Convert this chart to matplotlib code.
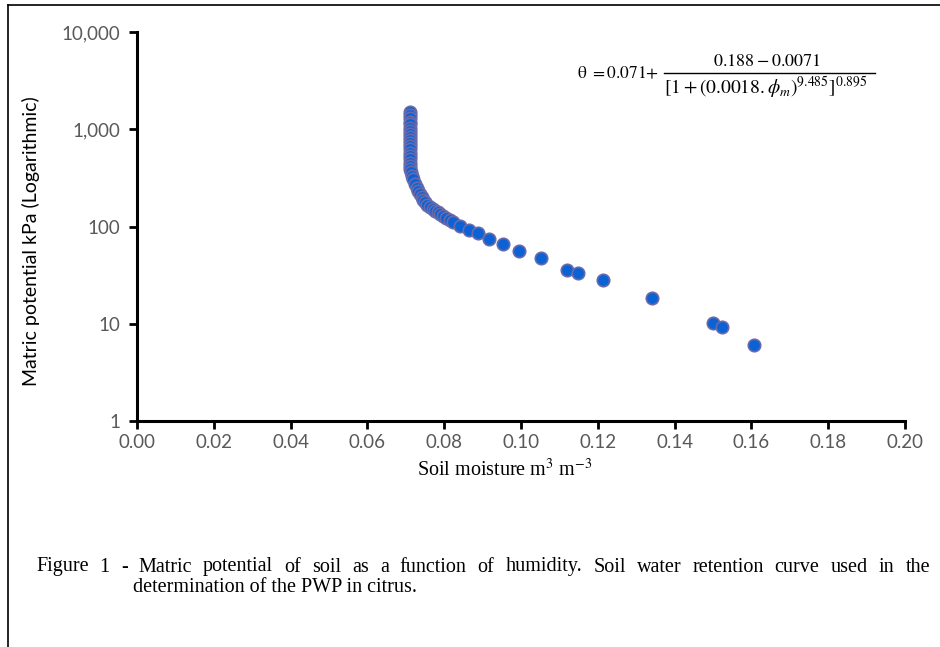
import matplotlib
matplotlib.use("Agg")
import matplotlib.pyplot as plt
from matplotlib.lines import Line2D
from matplotlib.ticker import FixedLocator, FuncFormatter

# soil moisture (m3 m-3) and matric potential (kPa)
moisture = [0.0710, 0.0710, 0.0710, 0.0710, 0.0710, 0.0710, 0.0710, 0.0710,
            0.0710, 0.0711, 0.0711, 0.0711, 0.0711, 0.0711, 0.0711, 0.0711,
            0.0711, 0.0712, 0.0712, 0.0713, 0.0715, 0.0719, 0.0724, 0.0728,
            0.0733, 0.0737, 0.0741, 0.0746, 0.0750, 0.0756, 0.0763, 0.0770,
            0.0776, 0.0783, 0.0789, 0.0797, 0.0805, 0.0815, 0.0824, 0.0841,
            0.0865, 0.0888, 0.0917, 0.0952, 0.0994, 0.1051, 0.1120, 0.1149,
            0.1214, 0.1341, 0.1501, 0.1524, 0.1607]
potential = [1500, 1400, 1300, 1200, 1120, 1040, 970, 900,
             840, 780, 720, 670, 620, 570, 530, 490,
             455, 420, 390, 360, 330, 305, 275, 250,
             230, 215, 200, 188, 178, 168, 160, 152,
             145, 140, 134, 128, 122, 116, 110, 101,
             92, 85, 75, 66, 56, 47, 36, 33,
             28, 18.2, 10.1, 9.3, 6.1]

x_ticks = [0.00, 0.02, 0.04, 0.06, 0.08, 0.10, 0.12, 0.14, 0.16, 0.18, 0.20]
y_ticks = [1, 10, 100, 1000, 10000]

caption_1 = ('Figure 1 - Matric potential of soil as a function of humidity. '
             'Soil water retention curve used in the')
caption_2 = 'determination of the PWP in citrus.'

plt.rcParams['mathtext.fontset'] = 'stix'

W, H = 940, 647
fig = plt.figure(figsize=(9.4, 6.47), dpi=100)
ax = fig.add_axes([137 / W, 1 - 421 / H, (905 - 137) / W, (421 - 32) / H])

ax.scatter(moisture, potential, s=80, color='#0B62D4', edgecolor='#6A6AAA',
           linewidth=1.2, zorder=3, clip_on=False)

ax.set_yscale('log')
ax.set_xlim(0, 0.20)
ax.set_ylim(1, 10000)
ax.xaxis.set_major_locator(FixedLocator(x_ticks))
ax.yaxis.set_major_locator(FixedLocator(y_ticks))
ax.yaxis.set_minor_locator(FixedLocator([]))
ax.xaxis.set_major_formatter(FuncFormatter(lambda v, p: f'{v:.2f}'))
ax.yaxis.set_major_formatter(FuncFormatter(lambda v, p: f'{int(v):,}'))

for side in ['top', 'right']:
    ax.spines[side].set_visible(False)
for side in ['left', 'bottom']:
    ax.spines[side].set_linewidth(2.2)

ax.tick_params(axis='both', which='major', direction='out', length=6, width=2,
               colors='black', labelcolor='#595959', labelsize=13.5)
ax.tick_params(axis='x', pad=3)
ax.tick_params(axis='y', pad=6)
for lbl in ax.get_xticklabels() + ax.get_yticklabels():
    lbl.set_family('Lato')

ax.set_ylabel('Matric potential kPa (Logarithmic)', family='Lato', fontsize=14)
ax.yaxis.set_label_coords((40 - 137) / 768, (421 - 241) / 389)
ax.set_xlabel(r'Soil moisture m$^{3}$ m$^{-3}$', family='Liberation Serif',
              fontsize=14.5, va='center')
ax.xaxis.set_label_coords((505 - 137) / 768, (421 - 470) / 389)

# fitted equation, built as left part, fraction bar, numerator and denominator
fig.text(577 / W, 1 - 73 / H, r'$\mathrm{\theta}\ {=}0.071{+}$', ha='left',
         va='center', fontsize=12.5)
fig.text(767 / W, 1 - 61 / H, r'$0.188-0.0071$', ha='center', va='center',
         fontsize=13)
fig.text(766 / W, 1 - 88 / H, r'$[1+(0.0018.\phi_m)^{9.485}]^{0.895}$',
         ha='center', va='center', fontsize=14)
fig.add_artist(Line2D([664 / W, 875 / W], [1 - 73 / H, 1 - 73 / H],
                      transform=fig.transFigure, color='black', lw=1))

# caption, first line justified between x=36 and x=930
renderer = fig.canvas.get_renderer()
words = caption_1.split()
word_texts = [fig.text(0, 1 - 567 / H, w, family='Liberation Serif',
                       fontsize=14.5, ha='left', va='center') for w in words]
widths = [t.get_window_extent(renderer).width for t in word_texts]
gap = (930 - 36 - sum(widths)) / (len(words) - 1)
xpos = 36
for t, wd in zip(word_texts, widths):
    t.set_x(xpos / W)
    xpos += wd + gap
fig.text(133 / W, 1 - 588 / H, caption_2, family='Liberation Serif',
         fontsize=14.5, ha='left', va='center')

# page frame (top and left edges)
fig.add_artist(Line2D([8 / W, 1], [1 - 5 / H, 1 - 5 / H],
                      transform=fig.transFigure, color='black', lw=1.2))
fig.add_artist(Line2D([8 / W, 8 / W], [0, 1 - 5 / H],
                      transform=fig.transFigure, color='black', lw=1.2))

fig.savefig('out.png', dpi=100)
